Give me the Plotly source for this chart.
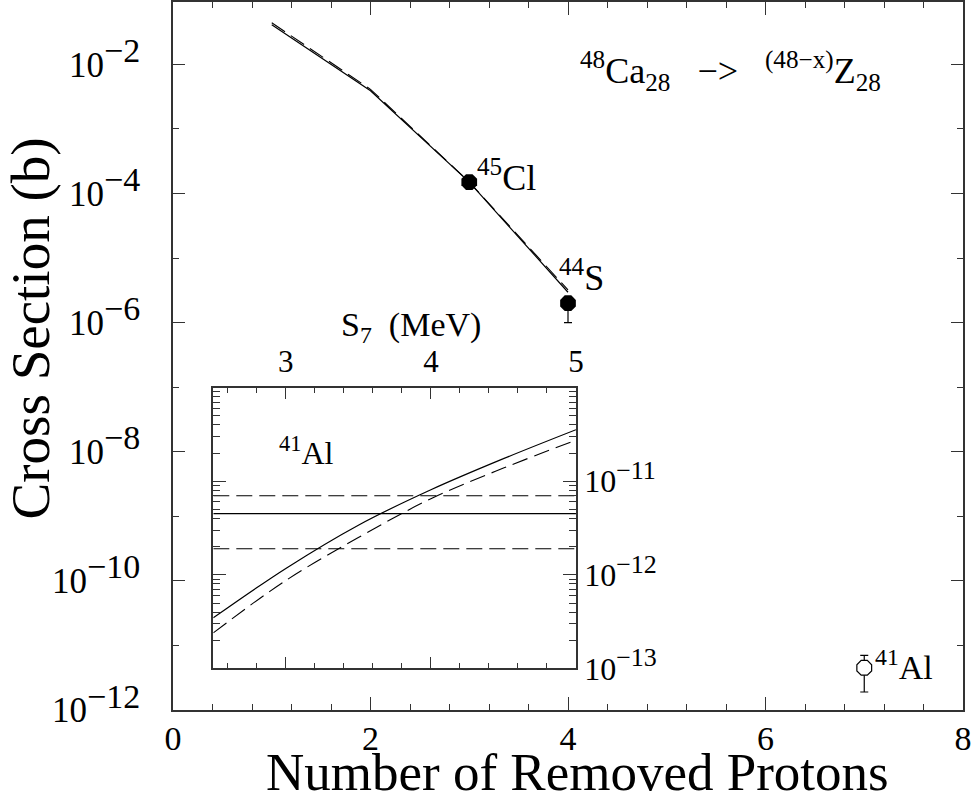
import numpy as np
import plotly.graph_objects as go

# main panel: cross section vs number of removed protons (48Ca -> Z)
n_removed = [1, 2, 3, 4]
sigma_solid = [4.1e-2, 3.9e-3, 1.5e-4, 2.95e-6]
sigma_dashed = [4.4e-2, 4.1e-3, 1.5e-4, 3.2e-6]

meas_n = [3, 4]
meas_sigma = [1.5e-4, 2.0e-6]
meas_err_lo = [0.0, 1.0e-6]
meas_labels = ["<sup>45</sup>Cl", "<sup>44</sup>S"]

al_n = [7]
al_sigma = [4.5e-12]
al_err_hi = [2.5e-12]
al_err_lo = [2.6e-12]

# inset: 41Al cross section vs S7
s7 = [2.5, 3.0, 3.5, 4.0, 4.5, 5.0]
s7_solid = [3.47e-13, 1.17e-12, 3.39e-12, 8.1e-12, 1.74e-11, 3.55e-11]
s7_dashed = [2.4e-13, 8.7e-13, 2.5e-12, 6.5e-12, 1.38e-11, 2.75e-11]
al_band_lo = 1.9e-12
al_band_mid = 4.5e-12
al_band_hi = 7.0e-12

main_exps = [-12, -10, -8, -6, -4, -2]
inset_exps = [-13, -12, -11]

FONT = "Liberation Serif"
AX = "#333333"
DASH = "16px,7px"

fig = go.Figure()

fig.add_trace(go.Scatter(x=n_removed, y=sigma_dashed, mode="lines",
                         line=dict(color="black", width=1.1, dash=DASH)))
fig.add_trace(go.Scatter(x=n_removed, y=sigma_solid, mode="lines",
                         line=dict(color="black", width=1.2)))
fig.add_trace(go.Scatter(
    x=meas_n, y=meas_sigma, mode="markers",
    marker=dict(symbol="octagon", size=17, color="black"),
    error_y=dict(type="data", symmetric=False, array=[0, 0], arrayminus=meas_err_lo,
                 color="black", thickness=1.2, width=4),
))
fig.add_trace(go.Scatter(
    x=al_n, y=al_sigma, mode="markers",
    marker=dict(symbol="octagon", size=16, color="white", line=dict(color="black", width=1.2)),
    error_y=dict(type="data", symmetric=False, array=al_err_hi, arrayminus=al_err_lo,
                 color="black", thickness=1.2, width=4),
))

# inset traces
x_ends = [s7[0], s7[-1]]
for v, d in [(al_band_lo, DASH), (al_band_mid, "solid"), (al_band_hi, DASH)]:
    fig.add_trace(go.Scatter(x=x_ends, y=[v, v], mode="lines", xaxis="x2", yaxis="y2",
                             line=dict(color="black", width=1.1, dash=d)))
fig.add_trace(go.Scatter(x=s7, y=s7_solid, mode="lines", xaxis="x2", yaxis="y2",
                         line=dict(color="black", width=1.2, shape="spline")))
fig.add_trace(go.Scatter(x=s7, y=s7_dashed, mode="lines", xaxis="x2", yaxis="y2",
                         line=dict(color="black", width=1.1, dash=DASH, shape="spline")))

tick_common = dict(showline=True, linecolor=AX, linewidth=1.5, mirror="allticks",
                   ticks="inside", tickcolor=AX, tickwidth=1.2, showgrid=False,
                   zeroline=False)

fig.update_layout(
    width=974, height=799,
    margin=dict(l=173, r=11, t=0, b=89),
    paper_bgcolor="white", plot_bgcolor="white",
    showlegend=False,
    font=dict(family=FONT, color="black"),
    xaxis=dict(range=[0, 8], dtick=2, tick0=0, ticklen=13,
               tickfont=dict(size=34), ticklabelstandoff=-3,
               minor=dict(dtick=0.4, tick0=0, ticklen=6, ticks="inside",
                          tickcolor=AX, tickwidth=1.2),
               **tick_common),
    yaxis=dict(type="log", range=[-12, -1.035], tickmode="array",
               tickvals=[10.0 ** e for e in main_exps],
               ticktext=[f"10<sup><span style='font-size:34px'>−{abs(e)}</span></sup>"
                         for e in main_exps],
               ticklen=12, tickfont=dict(size=35), ticklabelstandoff=24,
               minor=dict(tickmode="array",
                          tickvals=[10.0 ** (e + 1) for e in main_exps[:-1]] + [1e-1],
                          ticklen=6, ticks="inside", tickcolor=AX, tickwidth=1.2),
               **tick_common),
    xaxis2=dict(domain=[0.051, 0.5101], anchor="y2", range=[2.5, 5], side="top",
                dtick=1, tick0=0, ticklen=12, tickfont=dict(size=31),
                ticklabelstandoff=1,
                minor=dict(dtick=0.2, tick0=0, ticklen=6, ticks="inside",
                           tickcolor=AX, tickwidth=1.2),
                **tick_common),
    yaxis2=dict(domain=[0.0587, 0.4554], anchor="x2", type="log", range=[-13, -10],
                side="right", tickmode="array",
                tickvals=[10.0 ** e for e in inset_exps],
                ticktext=[f"10<sup><span style='font-size:26px'>−{abs(e)}</span></sup>"
                          for e in inset_exps],
                ticklen=13, tickfont=dict(size=32),
                minor=dict(tickmode="array",
                           tickvals=[k * 10.0 ** e for e in inset_exps for k in range(2, 10)],
                           ticklen=7, ticks="inside", tickcolor=AX, tickwidth=1.2),
                **tick_common),
)

ann = []
# labels near data points
ann.append(dict(x=meas_n[0], y=np.log10(meas_sigma[0]), xref="x", yref="y",
                text=meas_labels[0], showarrow=False, xanchor="left", yanchor="middle",
                xshift=6, yshift=7, font=dict(size=36)))
ann.append(dict(x=meas_n[1], y=np.log10(meas_sigma[1]), xref="x", yref="y",
                text=meas_labels[1], showarrow=False, xanchor="left", yanchor="middle",
                xshift=-11, yshift=28, font=dict(size=36)))
ann.append(dict(x=al_n[0], y=np.log10(al_sigma[0]), xref="x", yref="y",
                text="<sup>41</sup>Al", showarrow=False, xanchor="left", yanchor="middle",
                xshift=9, yshift=3, font=dict(size=34)))
ann.append(dict(x=0.5127, y=0.902, xref="paper", yref="paper",
                text="<sup>48</sup>Ca<sub>28</sub>&nbsp;&nbsp;&nbsp;−>&nbsp;&nbsp;&nbsp;"
                     "<sup>(48−x)</sup>Z<sub>28</sub>",
                showarrow=False, xanchor="left", yanchor="middle", font=dict(size=36)))
ann.append(dict(x=0.1316, y=0.366, xref="paper", yref="paper",
                text="<sup>41</sup>Al", showarrow=False, xanchor="left", yanchor="middle",
                font=dict(size=32)))
ann.append(dict(x=0.3013, y=0.5408, xref="paper", yref="paper",
                text="S<sub>7</sub>  (MeV)", showarrow=False, xanchor="center",
                yanchor="middle", font=dict(size=34)))
# axis titles
ann.append(dict(x=0.5115, y=-0.0875, xref="paper", yref="paper",
                text="Number of Removed Protons", showarrow=False, xanchor="center",
                yanchor="middle", font=dict(size=53)))
ann.append(dict(x=-0.181, y=0.539, xref="paper", yref="paper", textangle=-90,
                text="Cross Section (b)", showarrow=False, xanchor="center",
                yanchor="middle", font=dict(size=55)))
fig.update_layout(annotations=ann)

fig.write_html("out.html", config={"displayModeBar": False},
               post_script="document.body.style.margin='0px';")
